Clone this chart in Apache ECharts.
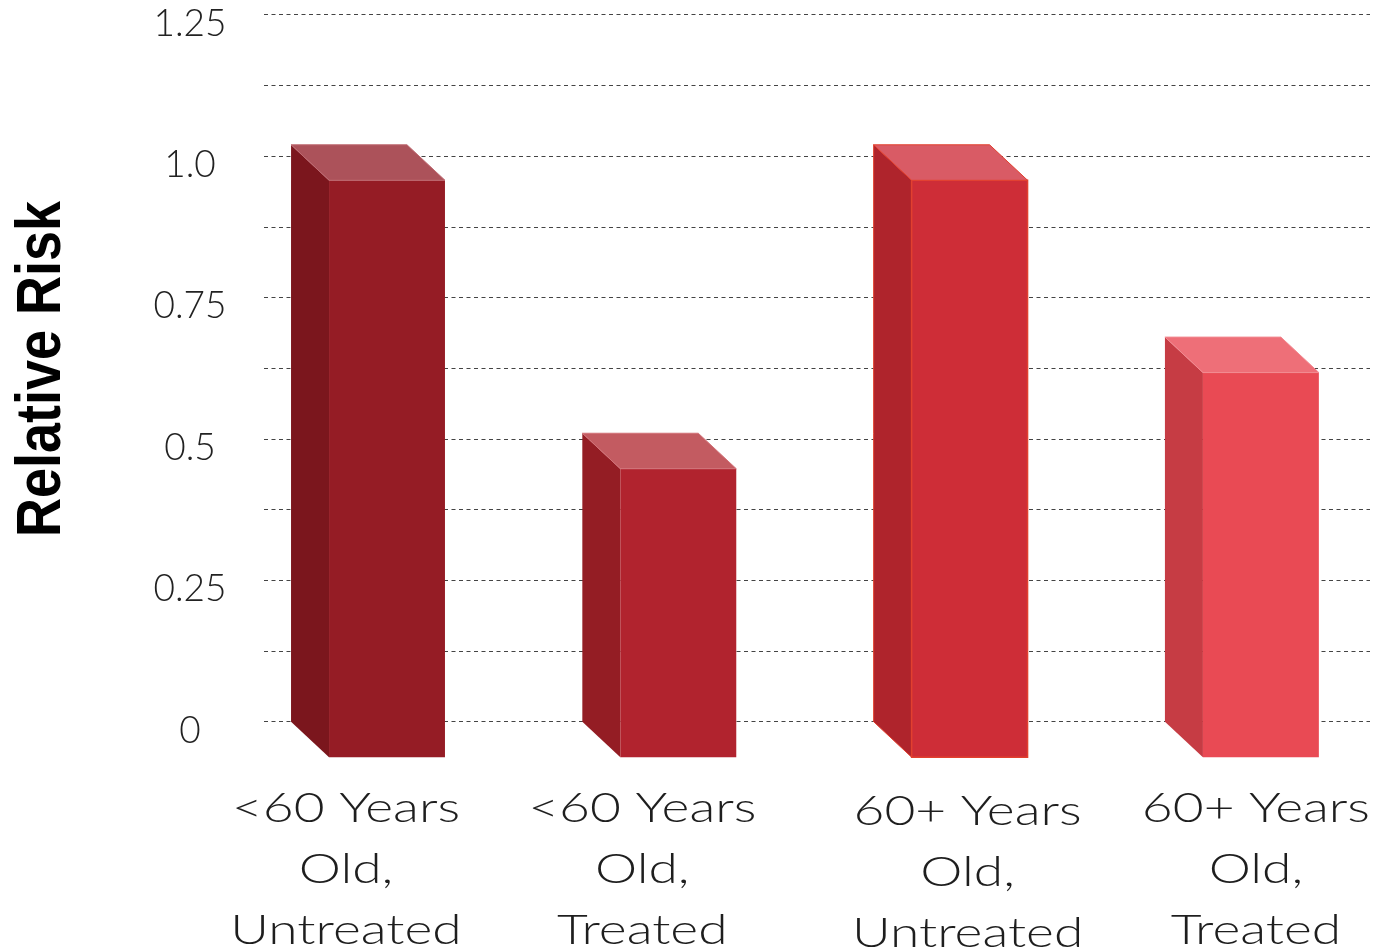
<!DOCTYPE html>
<html>
<head>
<meta charset="utf-8">
<title>Relative Risk by Age and Treatment</title>
<script src="https://cdn.jsdelivr.net/npm/echarts@6.0.0/dist/echarts.min.js"></script>
<style>
  html, body { margin: 0; padding: 0; background: #ffffff; }
  #chart { width: 1375px; height: 952px; }
</style>
</head>
<body>
<div id="chart"></div>
<script>
// ---- data ----
const categories = [
  '<60 Years\nOld,\nUntreated',
  '<60 Years\nOld,\nTreated',
  '60+ Years\nOld,\nUntreated',
  '60+ Years\nOld,\nTreated'
];
const relativeRisk = [1.02, 0.51, 1.02, 0.68];
const yTickValues = [0, 0.25, 0.5, 0.75, 1.0, 1.25];
const yTickLabels = ['0', '0.25', '0.5', '0.75', '1.0', '1.25'];
const axisTitle = 'Relative Risk';

// ---- styling ----
// front / side / top shades for each box
const boxShades = [
  { front: '#951c25', side: '#7b161d', top: '#ac525a', edge: '#bf6a72' },
  { front: '#b1232e', side: '#941d24', top: '#c35b61', edge: '#d27177' },
  { front: '#ce2d37', side: '#af242c', top: '#d95b65', edge: '#e2402f' },
  { front: '#e94a54', side: '#c63c44', top: '#ee6f78', edge: '#f28a91' }
];
// horizontal / vertical nudges for the category captions
const captionNudgeX = [-3, 2, 36, 33];
const captionNudgeY = [0, 0, 3, 0];
const DEPTH_X = 38;      // oblique depth of the boxes, px
const DEPTH_Y = 35.5;
const BOX_WIDTH = 0.398; // in category units

const chart = echarts.init(document.getElementById('chart'), null, { renderer: 'canvas' });

function tickLabel(v) {
  for (let k = 0; k < yTickValues.length; k++) {
    if (Math.abs(yTickValues[k] - v) < 1e-9) return yTickLabels[k];
  }
  return '';
}

function renderBox(params, api) {
  const i = api.value(0);
  const v = api.value(1);
  const base = api.coord([i, 0]);
  const top = api.coord([i, v]);
  const w = api.size([BOX_WIDTH, 0])[0];
  const x0 = base[0] - w / 2;
  const x1 = base[0] + w / 2;
  const yt = top[1];
  const yb = base[1];
  const c = boxShades[params.dataIndex];
  const isOutlined = params.dataIndex === 2;

  const side = {
    type: 'polygon',
    shape: { points: [[x0, yt], [x0 + DEPTH_X, yt + DEPTH_Y], [x0 + DEPTH_X, yb + DEPTH_Y], [x0, yb]] },
    style: { fill: c.side, stroke: isOutlined ? c.edge : null, lineWidth: 1 }
  };
  const lid = {
    type: 'polygon',
    shape: { points: [[x0, yt], [x1, yt], [x1 + DEPTH_X, yt + DEPTH_Y], [x0 + DEPTH_X, yt + DEPTH_Y]] },
    style: { fill: c.top, stroke: c.edge, lineWidth: 1 }
  };
  const front = {
    type: 'rect',
    shape: { x: x0 + DEPTH_X, y: yt + DEPTH_Y, width: w, height: yb - yt },
    style: { fill: c.front, stroke: isOutlined ? c.edge : null, lineWidth: 1.5 }
  };
  const caption = {
    type: 'text',
    x: base[0] + captionNudgeX[params.dataIndex],
    y: yb + 56 + captionNudgeY[params.dataIndex],
    scaleX: 1.27,
    style: {
      text: categories[params.dataIndex],
      x: 0,
      y: 0,
      align: 'center',
      verticalAlign: 'top',
      font: '300 42px Lato',
      lineHeight: 61,
      fill: '#1e1e1e'
    }
  };
  return { type: 'group', children: [side, front, lid, caption] };
}

const option = {
  backgroundColor: '#ffffff',
  animation: false,
  grid: {
    left: 264,
    right: 5,
    top: 14.7,
    bottom: 230.3,
    containLabel: false,
    outerBoundsMode: 'none'
  },
  xAxis: {
    type: 'value',
    min: -0.2918,
    max: 3.505,
    show: false
  },
  yAxis: {
    type: 'value',
    min: 0,
    max: 1.25,
    interval: 0.125,
    axisLine: { show: false },
    axisTick: { show: false },
    splitLine: {
      show: true,
      lineStyle: { color: '#444444', width: 1.2, type: [4, 3.5] }
    },
    axisLabel: {
      margin: 74,
      align: 'center',
      verticalAlign: 'top',
      lineHeight: 18,
      fontFamily: 'Lato',
      fontWeight: 300,
      fontSize: 37,
      color: '#222222',
      formatter: tickLabel
    }
  },
  graphic: [
    {
      type: 'text',
      x: 43,
      y: 369,
      rotation: Math.PI / 2,
      scaleY: 1.17,
      style: {
        text: axisTitle,
        x: 0,
        y: 0,
        align: 'center',
        verticalAlign: 'middle',
        font: 'bold 54px "Liberation Sans"',
        fill: '#000000'
      }
    }
  ],
  series: [
    {
      type: 'custom',
      clip: false,
      renderItem: renderBox,
      data: relativeRisk.map((v, i) => [i, v])
    }
  ]
};

chart.setOption(option);
</script>
</body>
</html>
